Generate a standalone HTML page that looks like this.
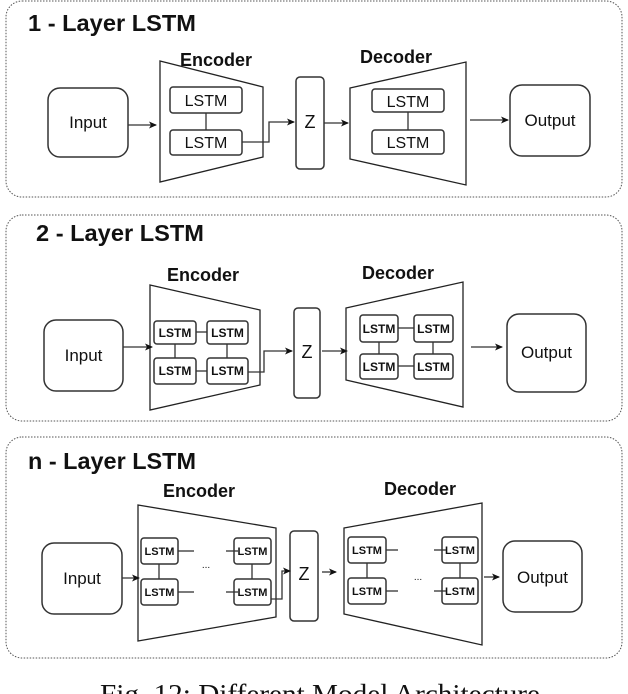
<!DOCTYPE html>
<html><head><meta charset="utf-8"><style>
html,body{margin:0;padding:0;background:#fff;width:628px;height:694px;overflow:hidden}
svg{display:block}
text{font-family:"Liberation Sans",Arial,sans-serif;fill:#111}
.p{fill:none;stroke:#555;stroke-width:1;stroke-dasharray:1.5 1.5}
.t{fill:none;stroke:#222;stroke-width:1.3}
.b{fill:#fff;stroke:#333;stroke-width:1.5}
.l{stroke:#333;stroke-width:1.3;fill:none}
</style></head><body>
<svg width="628" height="694" viewBox="0 0 628 694" xmlns="http://www.w3.org/2000/svg">
<defs><marker id="a" markerWidth="8" markerHeight="8" refX="7" refY="4" orient="auto" markerUnits="userSpaceOnUse"><path d="M0,0.5 L8,4 L0,7.5 L2,4 z" fill="#111"/></marker></defs>

<!-- Panel 1 -->
<rect class="p" x="6" y="1" width="616" height="196" rx="16"/>
<text x="28" y="31" font-size="23" font-weight="bold" textLength="168" lengthAdjust="spacingAndGlyphs">1 - Layer LSTM</text>
<text x="216" y="66" font-size="18" font-weight="bold" text-anchor="middle">Encoder</text>
<text x="396" y="63" font-size="18" font-weight="bold" text-anchor="middle">Decoder</text>
<polygon class="t" points="160,61 263,87 263,157 160,182"/>
<rect class="b" x="170" y="87" width="72" height="26" rx="3"/>
<rect class="b" x="170" y="130" width="72" height="25" rx="3"/>
<text x="206" y="106" font-size="16" text-anchor="middle">LSTM</text>
<text x="206" y="148" font-size="16" text-anchor="middle">LSTM</text>
<line class="l" x1="206" y1="113" x2="206" y2="130"/>
<rect class="b" x="48" y="88" width="80" height="69" rx="12"/>
<text x="88" y="128" font-size="17" text-anchor="middle">Input</text>
<line class="l" x1="128" y1="125" x2="156" y2="125" marker-end="url(#a)"/>
<rect class="b" x="296" y="77" width="28" height="92" rx="4"/>
<text x="310" y="128" font-size="18" text-anchor="middle">Z</text>
<polyline class="l" points="242,142 269,142 269,122 294,122" marker-end="url(#a)"/>
<line class="l" x1="324" y1="123" x2="348" y2="123" marker-end="url(#a)"/>
<polygon class="t" points="350,88 466,62 466,185 350,159"/>
<rect class="b" x="372" y="89" width="72" height="23" rx="3"/>
<rect class="b" x="372" y="130" width="72" height="24" rx="3"/>
<text x="408" y="107" font-size="16" text-anchor="middle">LSTM</text>
<text x="408" y="148" font-size="16" text-anchor="middle">LSTM</text>
<line class="l" x1="408" y1="112" x2="408" y2="130"/>
<line class="l" x1="470" y1="120" x2="508" y2="120" stroke-width="1.6" marker-end="url(#a)"/>
<rect class="b" x="510" y="85" width="80" height="71" rx="12"/>
<text x="550" y="126" font-size="17" text-anchor="middle">Output</text>

<!-- Panel 2 -->
<rect class="p" x="6" y="215" width="616" height="206" rx="16"/>
<text x="36" y="241" font-size="23" font-weight="bold" textLength="168" lengthAdjust="spacingAndGlyphs">2 - Layer LSTM</text>
<text x="203" y="281" font-size="18" font-weight="bold" text-anchor="middle">Encoder</text>
<text x="398" y="279" font-size="18" font-weight="bold" text-anchor="middle">Decoder</text>
<polygon class="t" points="150,285 260,310 260,385 150,410"/>
<rect class="b" x="154" y="321" width="42" height="23" rx="3"/>
<rect class="b" x="207" y="321" width="41" height="23" rx="3"/>
<rect class="b" x="154" y="358" width="42" height="26" rx="3"/>
<rect class="b" x="207" y="358" width="41" height="26" rx="3"/>
<g font-size="12" font-weight="bold" text-anchor="middle">
<text x="175" y="337">LSTM</text><text x="227.5" y="337">LSTM</text>
<text x="175" y="375">LSTM</text><text x="227.5" y="375">LSTM</text></g>
<line class="l" x1="196" y1="332" x2="207" y2="332"/><line class="l" x1="196" y1="371" x2="207" y2="371"/>
<line class="l" x1="175" y1="344" x2="175" y2="358"/><line class="l" x1="227" y1="344" x2="227" y2="358"/>
<rect class="b" x="44" y="320" width="79" height="71" rx="12"/>
<text x="83.5" y="361" font-size="17" text-anchor="middle">Input</text>
<line class="l" x1="123" y1="347" x2="152" y2="347" stroke-width="1.6" marker-end="url(#a)"/>
<rect class="b" x="294" y="308" width="26" height="90" rx="4"/>
<text x="307" y="358" font-size="18" text-anchor="middle">Z</text>
<polyline class="l" points="248,372 264,372 264,351 292,351" marker-end="url(#a)"/>
<line class="l" x1="322" y1="351" x2="347" y2="351" stroke-width="1.6" marker-end="url(#a)"/>
<polygon class="t" points="346,308 463,282 463,407 346,380"/>
<rect class="b" x="360" y="315" width="38" height="27" rx="3"/>
<rect class="b" x="414" y="315" width="39" height="27" rx="3"/>
<rect class="b" x="360" y="354" width="38" height="25" rx="3"/>
<rect class="b" x="414" y="354" width="39" height="25" rx="3"/>
<g font-size="12" font-weight="bold" text-anchor="middle">
<text x="379" y="333">LSTM</text><text x="433.5" y="333">LSTM</text>
<text x="379" y="371">LSTM</text><text x="433.5" y="371">LSTM</text></g>
<line class="l" x1="398" y1="328" x2="414" y2="328"/><line class="l" x1="398" y1="366" x2="414" y2="366"/>
<line class="l" x1="379" y1="342" x2="379" y2="354"/><line class="l" x1="433" y1="342" x2="433" y2="354"/>
<line class="l" x1="471" y1="347" x2="502" y2="347" stroke-width="1.6" marker-end="url(#a)"/>
<rect class="b" x="507" y="314" width="79" height="78" rx="12"/>
<text x="546.5" y="358" font-size="17" text-anchor="middle">Output</text>

<!-- Panel 3 -->
<rect class="p" x="6" y="437" width="616" height="221" rx="16"/>
<text x="28" y="469" font-size="23" font-weight="bold" textLength="168" lengthAdjust="spacingAndGlyphs">n - Layer LSTM</text>
<text x="199" y="497" font-size="18" font-weight="bold" text-anchor="middle">Encoder</text>
<text x="420" y="495" font-size="18" font-weight="bold" text-anchor="middle">Decoder</text>
<polygon class="t" points="138,505 276,528 276,617 138,641"/>
<rect class="b" x="141" y="538" width="37" height="26" rx="3"/>
<rect class="b" x="234" y="538" width="37" height="26" rx="3"/>
<rect class="b" x="141" y="579" width="37" height="26" rx="3"/>
<rect class="b" x="234" y="579" width="37" height="26" rx="3"/>
<g font-size="11" font-weight="bold" text-anchor="middle">
<text x="159.5" y="555">LSTM</text><text x="252.5" y="555">LSTM</text>
<text x="159.5" y="596">LSTM</text><text x="252.5" y="596">LSTM</text></g>
<line class="l" x1="178" y1="551" x2="194" y2="551"/><line class="l" x1="226" y1="551" x2="238" y2="551"/>
<line class="l" x1="178" y1="592" x2="194" y2="592"/><line class="l" x1="226" y1="592" x2="238" y2="592"/>
<line class="l" x1="159" y1="564" x2="159" y2="579"/><line class="l" x1="252" y1="564" x2="252" y2="579"/>
<text x="206" y="568" font-size="10" text-anchor="middle">...</text>
<rect class="b" x="42" y="543" width="80" height="71" rx="12"/>
<text x="82" y="584" font-size="17" text-anchor="middle">Input</text>
<line class="l" x1="122" y1="578" x2="139" y2="578" stroke-width="1.6" marker-end="url(#a)"/>
<rect class="b" x="290" y="531" width="28" height="90" rx="4"/>
<text x="304" y="580" font-size="18" text-anchor="middle">Z</text>
<polyline class="l" points="271,599 282,599 282,571 290,571" marker-end="url(#a)"/>
<line class="l" x1="322" y1="572" x2="336" y2="572" stroke-width="1.6" marker-end="url(#a)"/>
<polygon class="t" points="344,528 482,503 482,645 344,614"/>
<rect class="b" x="348" y="537" width="38" height="26" rx="3"/>
<rect class="b" x="442" y="537" width="36" height="26" rx="3"/>
<rect class="b" x="348" y="578" width="38" height="26" rx="3"/>
<rect class="b" x="442" y="578" width="36" height="26" rx="3"/>
<g font-size="11" font-weight="bold" text-anchor="middle">
<text x="367" y="554">LSTM</text><text x="460" y="554">LSTM</text>
<text x="367" y="595">LSTM</text><text x="460" y="595">LSTM</text></g>
<line class="l" x1="386" y1="550" x2="398" y2="550"/><line class="l" x1="434" y1="550" x2="446" y2="550"/>
<line class="l" x1="386" y1="591" x2="398" y2="591"/><line class="l" x1="434" y1="591" x2="446" y2="591"/>
<line class="l" x1="367" y1="563" x2="367" y2="578"/><line class="l" x1="460" y1="563" x2="460" y2="578"/>
<text x="418" y="580" font-size="10" text-anchor="middle">...</text>
<line class="l" x1="484" y1="577" x2="499" y2="577" stroke-width="1.6" marker-end="url(#a)"/>
<rect class="b" x="503" y="541" width="79" height="71" rx="12"/>
<text x="542.5" y="583" font-size="17" text-anchor="middle">Output</text>

<!-- caption -->
<text x="100" y="703" font-size="27" textLength="440" lengthAdjust="spacingAndGlyphs" style="font-family:'Liberation Serif',serif">Fig. 12: Different Model Architecture</text>
</svg>
</body></html>
